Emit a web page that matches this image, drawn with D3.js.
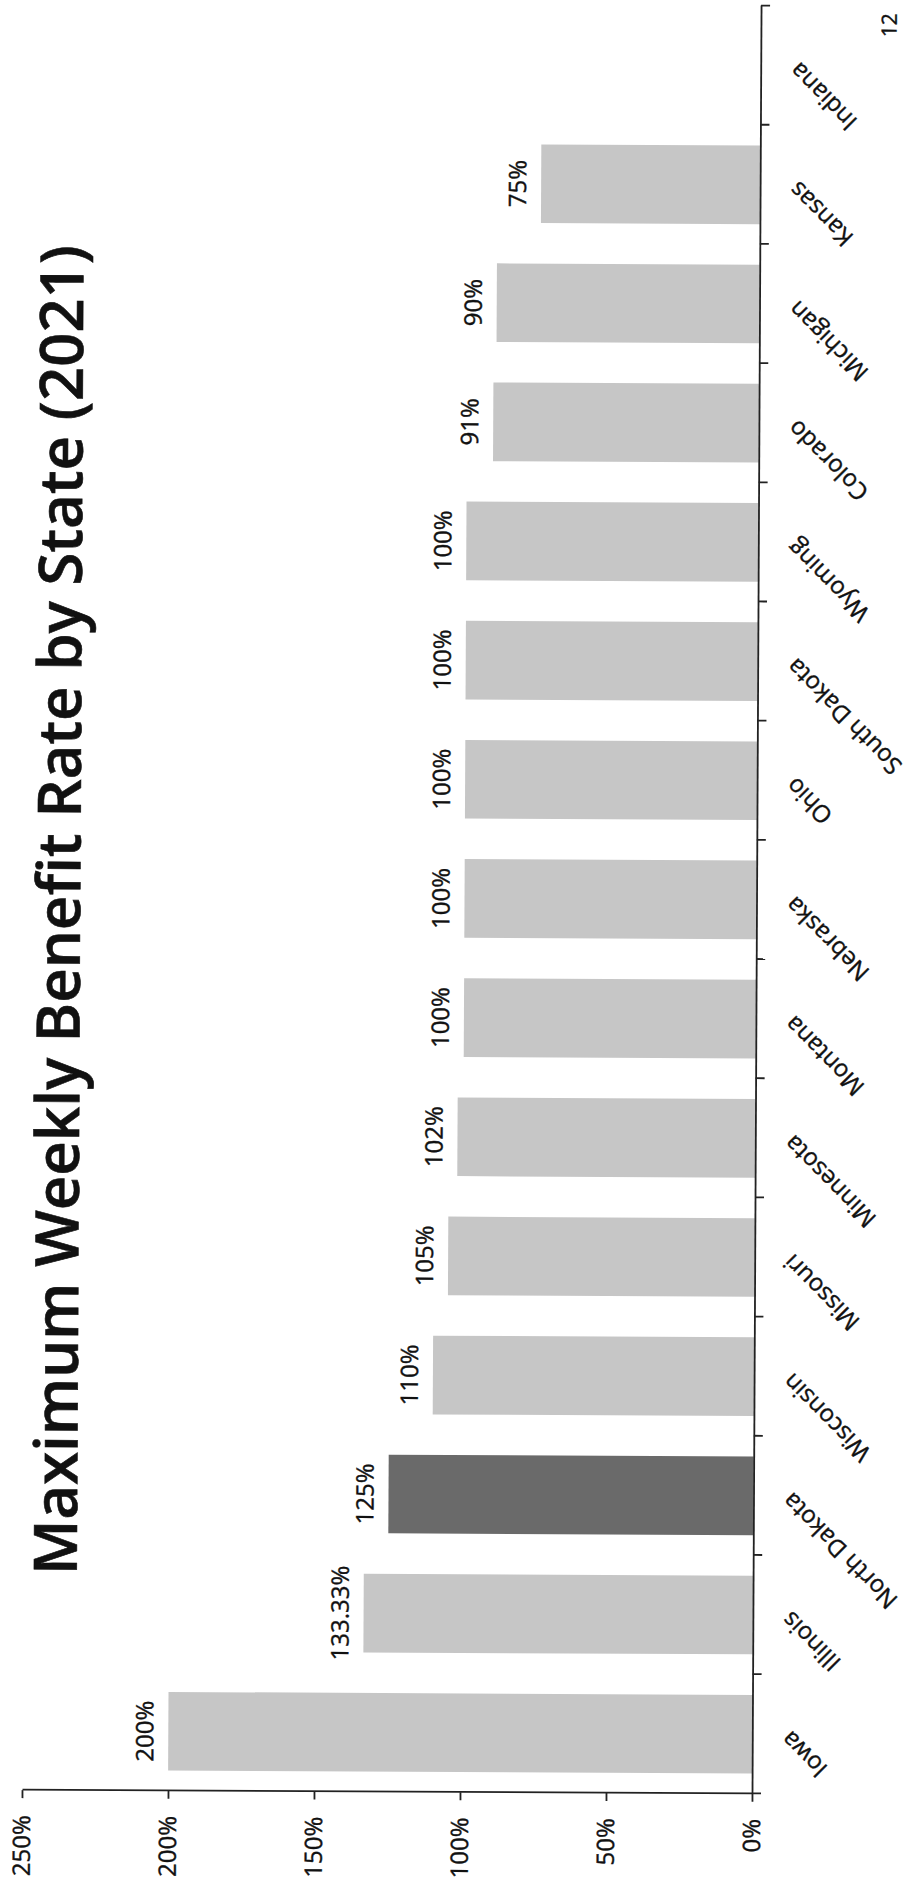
<!DOCTYPE html>
<html>
<head>
<meta charset="utf-8">
<script src="https://cdn.jsdelivr.net/npm/d3@7"></script>
<style>
body{margin:0;background:#fff;}
svg{display:block;}
text{font-family:"Open Sans", sans-serif; fill:#111; stroke:#111; stroke-width:0.4px;}
</style>
</head>
<body>
<div id="chart"></div>
<script>
const states = ['Iowa','Illinois','North Dakota','Wisconsin','Missouri','Minnesota','Montana','Nebraska','Ohio','South Dakota','Wyoming','Colorado','Michigan','Kansas','Indiana'];
const rates = [200,133.33,125,110,105,102,100,100,100,100,100,91,90,75,null];
const rateLabels = ['200%','133.33%','125%','110%','105%','102%','100%','100%','100%','100%','100%','91%','90%','75%',''];
const highlight = 'North Dakota';
const valueTicks = [0,50,100,150,200,250];
const title = 'Maximum Weekly Benefit Rate by State (2021)';
const pageNumber = '12';

const W = 908, H = 1885;

// the scanned page lies on its side: draw the chart upright in a H x W frame, then turn it
const frameW = H, frameH = W;
const margin = {top: 26.3, right: 4.5, bottom: frameH - 756.3, left: 92.7};

const svg = d3.select('#chart').append('svg')
.attr('width', W)
.attr('height', H)

const page = svg.append('g')
.attr('transform', `rotate(0.29 ${W/2} ${H/2})`)
.append('g')
.attr('transform', `translate(0,${H}) rotate(-90)`)

const x = d3.scaleBand()
.domain(states)
.range([margin.left, frameW - margin.right])
.paddingInner(0.34)
.paddingOuter(0.17)

const y = d3.scaleLinear()
.domain([0, 250])
.range([frameH - margin.bottom, margin.top])

// tick marks sit between the categories
const xEdges = d3.scaleLinear()
.domain([0, states.length])
.range(x.range())

const data = states.map((s, i) => ({state: s, rate: rates[i], label: rateLabels[i]}));

page.append('text')
.attr('x', 973)
.attr('y', 80)
.attr('text-anchor', 'middle')
.style('font-size', '60px')
.style('font-weight', 600)
.style('stroke-width', '0.6px')
.text(title)

page.append('text')
.attr('x', 1850)
.attr('y', 892)
.style('font-size', '21px')
.text(pageNumber)

page.append('g')
.selectAll('rect')
.data(data.filter(d => d.rate != null))
.enter()
.append('rect')
.attr('x', d => x(d.state))
.attr('width', x.bandwidth())
.attr('y', d => y(d.rate))
.attr('height', d => y(0) - y(d.rate))
.style('fill', d => d.state === highlight ? '#6a6a6a' : '#c6c6c6')

page.append('g')
.selectAll('text')
.data(data.filter(d => d.rate != null))
.enter()
.append('text')
.attr('x', d => x(d.state) + x.bandwidth() / 2)
.attr('y', d => y(d.rate) - 15)
.attr('text-anchor', 'middle')
.style('font-size', '24px')
.text(d => d.label)

const yAxis = page.append('g')
.attr('transform', `translate(${margin.left},0)`)
.call(
	d3.axisLeft(y)
	.tickValues(valueTicks)
	.tickSize(8)
	.tickSizeOuter(0)
	.tickPadding(17)
	.tickFormat(d => d + '%')
)

const xAxis = page.append('g')
.attr('transform', `translate(0,${y(0)})`)
.call(
	d3.axisBottom(xEdges)
	.tickValues(d3.range(states.length + 1))
	.tickSize(9)
	.tickSizeOuter(0)
	.tickFormat('')
)

page.selectAll('.domain, .tick line')
.attr('stroke', '#222')
.attr('stroke-width', 1.8)

yAxis.selectAll('text')
.attr('font-family', null)
.style('font-size', '24px')
.style('fill', '#111')

page.append('g')
.selectAll('text')
.data(data)
.enter()
.append('text')
.attr('transform', d => {
	let ax = x(d.state) + x.bandwidth() / 2 + 5;
	let ay = y(0) + 39;
	return `translate(${ax},${ay}) rotate(-45)`
})
.attr('text-anchor', 'end')
.style('font-size', '24px')
.text(d => d.state)
</script>
</body>
</html>
